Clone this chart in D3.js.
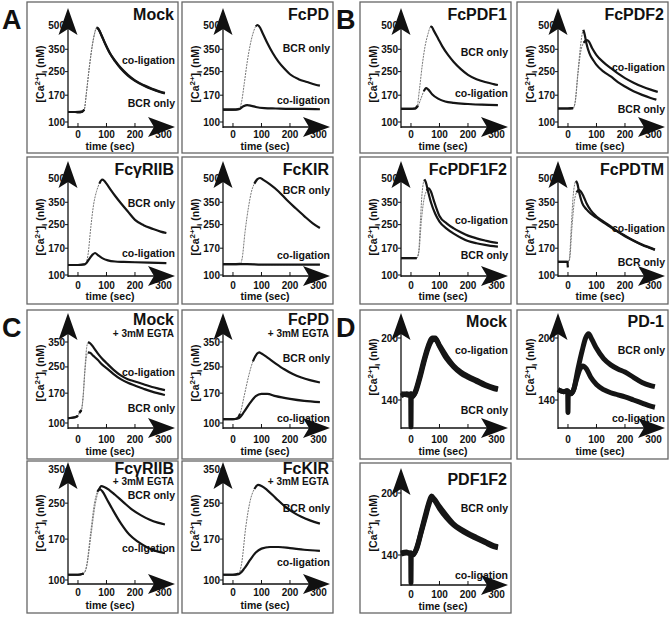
<!DOCTYPE html>
<html><head><meta charset="utf-8">
<script src="https://cdn.jsdelivr.net/npm/d3@7"></script>
<style>
body{margin:0;background:#fff}
svg{display:block}
text{font-family:"Liberation Sans",Arial,Helvetica,sans-serif;font-weight:bold;fill:#111}
</style>
</head><body>
<svg id="c" width="670" height="617"></svg>
<script>
// ---------- tick labels ----------
const timeTicks = [0, 100, 200, 300];
const caTicksAB = [100, 170, 250, 350, 500];
const caTicksC = [100, 170, 250, 350];
const caTicksD = [140, 200];

// ---------- traces: [time (sec), [Ca2+]i (nM)] ----------
const mockA_co = [[-35,124],[-10,124],[0,123],[15,125],[22,130],[30,180],[40,270],[50,370],[58,440],[65,482],[70,478],[80,440],[95,380],[110,335],[130,295],[150,265],[175,238],[200,218],[230,202],[260,190],[290,180],[305,177]];
const mockA_bcr = [[-35,124],[-10,124],[15,125],[22,130],[30,180],[40,268],[50,365],[58,438],[66,478],[72,470],[82,432],[97,375],[112,330],[130,293],[150,262],[175,235],[200,216],[230,200],[260,188],[290,179],[305,175]];

const fcpd_bcr = [[-35,130],[-10,130],[10,130],[22,132],[30,150],[40,210],[50,290],[60,370],[70,440],[80,490],[86,500],[92,490],[105,440],[120,385],[140,330],[160,290],[180,262],[200,240],[230,222],[260,212],[290,203],[305,200]];
const fcpd_co = [[-35,130],[0,130],[20,131],[35,138],[50,142],[65,140],[80,137],[110,134],[150,133],[200,132],[250,132],[305,131]];

const fcpdf1_bcr = [[-35,132],[-5,132],[15,133],[22,140],[30,190],[40,280],[50,370],[60,440],[68,485],[72,488],[80,460],[95,410],[110,365],[130,322],[150,290],[175,260],[200,238],[230,222],[260,212],[290,205],[305,202]];
const fcpdf1_co = [[-35,132],[-5,132],[15,133],[25,140],[35,160],[45,182],[53,192],[60,188],[75,172],[95,160],[120,152],[150,148],[200,145],[250,143],[305,142]];

const fcpdf2_bcr = [[-35,133],[0,133],[18,134],[25,150],[35,250],[45,380],[50,440],[54,465],[58,440],[65,380],[75,330],[90,295],[100,277],[125,250],[150,232],[175,212],[200,197],[230,182],[260,171],[290,162],[310,157]];
const fcpdf2_co = [[-35,133],[0,133],[18,134],[25,148],[35,240],[45,340],[55,385],[65,400],[72,395],[85,355],[100,321],[125,288],[150,264],[175,243],[200,226],[230,210],[260,197],[290,187],[315,180]];

const fcgr_bcr = [[-35,124],[0,124],[25,126],[35,150],[45,240],[55,340],[65,410],[75,460],[85,488],[92,480],[100,460],[115,420],[130,385],[150,346],[175,305],[200,269],[230,248],[260,235],[290,224],[310,219]];
const fcgr_co = [[-35,124],[0,124],[25,126],[40,140],[52,152],[60,156],[70,150],[85,142],[105,136],[130,133],[160,132],[200,131],[250,130],[310,129]];

const fckir_bcr = [[-35,126],[0,126],[25,127],[32,140],[42,220],[55,330],[65,410],[75,460],[85,490],[95,500],[105,488],[130,455],[160,410],[190,360],[220,320],[250,285],[280,255],[305,237]];
const fckir_co = [[-35,126],[0,126],[50,126],[100,125],[150,125],[200,125],[250,125],[305,125]];

const fcpdf1f2_bcr = [[-35,142],[0,142],[20,142],[27,160],[33,260],[38,380],[43,460],[47,490],[52,470],[60,410],[70,350],[85,295],[100,262],[125,235],[150,217],[175,203],[200,192],[230,185],[260,180],[290,176],[305,175]];
const fcpdf1f2_co = [[-35,142],[0,142],[20,142],[28,160],[36,260],[45,360],[55,415],[62,430],[70,410],[80,360],[92,310],[100,285],[125,255],[150,236],[175,222],[200,210],[230,201],[260,194],[290,188],[305,186]];

const fcpdtm_bcr = [[-35,132],[-2,132],[-0.5,118],[1,132],[5,140],[12,250],[18,380],[24,460],[28,480],[33,460],[40,400],[50,345],[65,315],[80,295],[100,278],[125,258],[150,240],[175,223],[200,208],[230,193],[260,180],[290,170],[305,165]];
const fcpdtm_co = [[-35,132],[-2,132],[2,132],[6,140],[14,240],[22,350],[30,405],[38,420],[45,410],[55,380],[65,345],[80,310],[100,283],[125,262],[150,243],[175,225],[200,210],[230,194],[260,181],[290,171],[305,166]];

const egtaMock_co = [[-35,110],[-10,112],[0,115],[5,122],[12,128],[18,160],[24,240],[30,320],[35,348],[42,345],[55,325],[70,300],[85,280],[100,264],[125,240],[150,222],[175,210],[200,203],[230,195],[260,187],[290,181],[305,178]];
const egtaMock_bcr = [[-35,110],[-10,112],[0,115],[5,122],[12,128],[18,160],[24,230],[30,290],[35,305],[42,303],[55,290],[70,275],[85,258],[100,246],[125,226],[150,210],[175,199],[200,191],[230,182],[260,174],[290,168],[305,165]];

const egtaFcpd_bcr = [[-35,108],[0,108],[15,110],[25,120],[40,165],[55,220],[70,270],[85,300],[92,305],[100,300],[120,285],[150,262],[180,242],[210,226],[240,215],[270,207],[305,200]];
const egtaFcpd_co = [[-35,108],[0,108],[20,110],[40,125],[60,145],[80,162],[100,168],[120,168],[150,162],[200,155],[250,150],[305,147]];

const egtaFcgr_bcr = [[-35,108],[0,108],[20,110],[30,120],[45,175],[60,245],[72,283],[82,296],[92,294],[110,285],[130,272],[160,252],[190,234],[220,221],[250,211],[280,204],[305,200]];
const egtaFcgr_co = [[-35,108],[0,108],[20,110],[30,122],[45,185],[58,250],[68,280],[76,288],[86,281],[100,262],[120,236],[150,203],[180,179],[210,165],[240,155],[270,148],[305,144]];

const egtaFckir_bcr = [[-35,108],[0,108],[20,110],[30,125],[45,195],[60,255],[75,288],[88,300],[100,297],[120,285],[150,263],[180,243],[210,228],[240,217],[270,209],[305,202]];
const egtaFckir_co = [[-35,108],[0,108],[20,109],[40,118],[60,132],[80,145],[100,152],[130,155],[160,155],[200,153],[250,150],[305,148]];

const dMock_co = [[-35,146],[-15,145],[-3,144],[-1,146],[0,114],[1,146],[5,143],[15,148],[30,162],[45,178],[60,192],[75,200],[85,200],[100,193],[125,182],[150,173],[175,167],[200,163],[230,159],[260,155],[290,152],[305,151]];
const dMock_bcr = [[-35,144],[-15,146],[-3,145],[5,144],[15,147],[30,160],[45,176],[60,190],[75,198],[85,199],[100,192],[125,180],[150,172],[175,166],[200,162],[230,158],[260,154],[290,151],[305,150]];

const pd1_bcr = [[-35,150],[-15,148],[-3,149],[-1,148],[0,128],[1,148],[10,146],[20,150],[35,170],[50,188],[62,200],[72,204],[85,198],[100,190],[125,180],[150,174],[175,170],[200,167],[230,162],[260,157],[290,154],[305,153]];
const pd1_co = [[-35,150],[-15,148],[-3,149],[10,146],[20,150],[30,160],[42,170],[52,173],[65,170],[80,162],[100,155],[125,150],[150,147],[175,145],[200,143],[230,140],[260,137],[290,134],[305,133]];

const pdf1f2_bcr = [[-35,142],[-15,143],[-3,141],[-1,142],[0,113],[1,142],[8,140],[20,147],[35,162],[50,178],[62,190],[72,197],[82,194],[100,187],[125,178],[150,170],[175,165],[200,161],[230,157],[260,153],[290,149],[305,148]];
const pdf1f2_co = [[-35,141],[-15,142],[-3,142],[8,141],[20,146],[35,161],[50,176],[62,188],[72,195],[82,193],[100,185],[125,176],[150,169],[175,164],[200,160],[230,156],[260,152],[290,148],[305,147]];

// ---------- layout ----------
const colX = [27, 182, 360, 517];
const panelW = 151;

// per-row frame geometry (relative to the panel's top edge)
const frames = {
  AB1:{top:2,   h:151, ticks:caTicksAB, kind:"ind", tip:6, axis:125, lo:[100,120], hi:[500,23], tickLab:136, timeLab:148, titleY:18, ytitleY:72, sw:2.2},
  AB2:{top:157, h:147, ticks:caTicksAB, kind:"ind", tip:4, axis:119, lo:[100,118], hi:[500,21], tickLab:132, timeLab:143, titleY:18, ytitleY:70, sw:2.2},
  C1: {top:310, h:149, ticks:caTicksC,  kind:"ind", tip:3, axis:118, lo:[100,113], hi:[350,32], tickLab:133, timeLab:145, titleY:15, subY:27, ytitleY:63, sw:2.2},
  C2: {top:461, h:152, ticks:caTicksC,  kind:"ind", tip:1, axis:123, lo:[100,119], hi:[350,8],  tickLab:135, timeLab:148, titleY:13, subY:24, ytitleY:62, sw:2.2},
  D1: {top:310, h:149, ticks:caTicksD,  kind:"lin", tip:3, axis:118, lo:[140,90],  hi:[200,28], tickLab:133, timeLab:145, titleY:17, ytitleY:57, sw:5, noisy:true},
  D2: {top:463, h:150, ticks:caTicksD,  kind:"lin", tip:5, axis:122, lo:[140,92],  hi:[200,30], tickLab:135, timeLab:147, titleY:22, ytitleY:60, sw:5, noisy:true}
};

const panels = [
  {letter:"A", col:0,frame:"AB1",title:"Mock", traces:[mockA_bcr,mockA_co], labels:[["co-ligation",62],["BCR only",105]]},
  {col:1,frame:"AB1",title:"FcPD", traces:[fcpd_bcr,fcpd_co], labels:[["BCR only",50],["co-ligation",102]]},
  {letter:"B", col:2,frame:"AB1",title:"FcPDF1", traces:[fcpdf1_bcr,fcpdf1_co], labels:[["BCR only",54],["co-ligation",95]]},
  {col:3,frame:"AB1",title:"FcPDF2", traces:[fcpdf2_bcr,fcpdf2_co], labels:[["co-ligation",69],["BCR only",111]]},
  {col:0,frame:"AB2",title:"FcγRIIB", traces:[fcgr_bcr,fcgr_co], labels:[["BCR only",50],["co-ligation",100]]},
  {col:1,frame:"AB2",title:"FcKIR", traces:[fckir_bcr,fckir_co], labels:[["BCR only",37],["co-ligation",102]]},
  {col:2,frame:"AB2",title:"FcPDF1F2", traces:[fcpdf1f2_bcr,fcpdf1f2_co], labels:[["co-ligation",67],["BCR only",102]]},
  {col:3,frame:"AB2",title:"FcPDTM", traces:[fcpdtm_bcr,fcpdtm_co], labels:[["co-ligation",75],["BCR only",109]]},
  {letter:"C", col:0,frame:"C1",title:"Mock",sub:"+ 3mM EGTA", traces:[egtaMock_bcr,egtaMock_co], labels:[["co-ligation",66],["BCR only",102]]},
  {col:1,frame:"C1",title:"FcPD",sub:"+ 3mM EGTA", traces:[egtaFcpd_bcr,egtaFcpd_co], labels:[["BCR only",52],["co-ligation",112]]},
  {col:0,frame:"C2",title:"FcγRIIB",sub:"+ 3mM EGTA", traces:[egtaFcgr_bcr,egtaFcgr_co], labels:[["BCR only",38],["co-ligation",91]]},
  {col:1,frame:"C2",title:"FcKIR",sub:"+ 3mM EGTA", traces:[egtaFckir_bcr,egtaFckir_co], labels:[["BCR only",51],["co-ligation",105]]},
  {letter:"D", col:2,frame:"D1",title:"Mock", traces:[dMock_bcr,dMock_co], labels:[["co-ligation",44],["BCR only",104]]},
  {col:3,frame:"D1",title:"PD-1", traces:[pd1_bcr,pd1_co], labels:[["BCR only",44],["co-ligation",112]]},
  {col:2,frame:"D2",title:"PDF1F2", traces:[pdf1f2_bcr,pdf1f2_co], labels:[["BCR only",49],["co-ligation",116]]}
];

// indicator calibration: fluorescence fraction f = Ca/(Ca+Kd)
const Kd = 400;
const fT = v => v / (v + Kd);

const svg = d3.select("#c");

function stealthV(x, y){ // upward arrow, tip at (x,y)
  return `M${x},${y} L${x+9.5},${y+27} L${x},${y+21} L${x-9.5},${y+27} Z`;
}
function stealthH(x, y){ // rightward arrow, tip at (x,y)
  return `M${x},${y} L${x-27},${y+10} L${x-21},${y} L${x-27},${y-10} Z`;
}

panels.forEach(p => {
  const g = frames[p.frame];
  const L = colX[p.col], T = g.top, H = g.h;
  const gp = svg.append("g");
  gp.append("rect").attr("x", L).attr("y", T).attr("width", panelW).attr("height", H)
    .attr("fill", "none").attr("stroke", "#666").attr("stroke-width", 1.3);

  const x = d3.scaleLinear().domain([-35, 300]).range([L + 41, L + 41 + 335 * 0.285]);
  let y;
  if (g.kind === "lin") {
    y = d3.scaleLinear().domain([g.lo[0], g.hi[0]]).range([T + g.lo[1], T + g.hi[1]]);
  } else {
    const s = d3.scaleLinear().domain([fT(g.lo[0]), fT(g.hi[0])]).range([T + g.lo[1], T + g.hi[1]]);
    y = v => s(fT(v));
  }
  const ax = L + 41, ay = T + g.axis;

  // y ticks + labels (drawn first so the arrowheads sit on top)
  g.ticks.forEach(v => {
    gp.append("line").attr("x1", ax - 3).attr("x2", ax).attr("y1", y(v)).attr("y2", y(v))
      .attr("stroke", "#111").attr("stroke-width", 1);
    gp.append("text").attr("x", ax - 3).attr("y", y(v) + 3.5).attr("text-anchor", "end")
      .attr("font-size", 10).text(v);
  });
  // x ticks
  timeTicks.forEach(t => {
    gp.append("line").attr("x1", x(t)).attr("x2", x(t)).attr("y1", ay - 4).attr("y2", ay)
      .attr("stroke", "#111").attr("stroke-width", 1);
    gp.append("text").attr("x", x(t)).attr("y", T + g.tickLab).attr("text-anchor", "middle")
      .attr("font-size", 10).text(t);
  });

  // axes
  gp.append("line").attr("x1", ax).attr("x2", ax).attr("y1", ay + 1).attr("y2", T + g.tip + 10)
    .attr("stroke", "#111").attr("stroke-width", 1.3);
  gp.append("line").attr("x1", ax).attr("x2", L + 135).attr("y1", ay).attr("y2", ay)
    .attr("stroke", "#111").attr("stroke-width", 1.3);
  gp.append("path").attr("d", stealthV(ax, T + g.tip)).attr("fill", "#111");
  gp.append("path").attr("d", stealthH(L + 148, ay)).attr("fill", "#111");

  gp.append("text").attr("x", L + 83).attr("y", T + g.timeLab).attr("text-anchor", "middle")
    .attr("font-size", 10.5).text("time (sec)");

  // y title
  const yt = gp.append("text").attr("text-anchor", "middle").attr("font-size", 10.5)
    .attr("transform", `translate(${L + 17},${T + g.ytitleY}) rotate(-90)`);
  yt.append("tspan").text("[Ca");
  yt.append("tspan").attr("dy", -4).attr("font-size", 8).text("2+");
  yt.append("tspan").attr("dy", 4).text("]");
  yt.append("tspan").attr("dy", 3).attr("font-size", 8).text("i");
  yt.append("tspan").attr("dy", -3).text(" (nM)");

  // titles
  gp.append("text").attr("x", L + panelW - 4).attr("y", T + g.titleY).attr("text-anchor", "end")
    .attr("font-size", 16).text(p.title);
  if (p.sub) gp.append("text").attr("x", L + panelW - 4).attr("y", T + g.subY).attr("text-anchor", "end")
    .attr("font-size", 10).text(p.sub);

  // traces: thin faint line for the whole record, heavy line except on steep rising parts
  const line = d3.line().x(d => x(d[0])).y(d => y(d[1])).curve(d3.curveMonotoneX);
  p.traces.forEach(tr => {
    if (g.noisy) {
      gp.append("path").attr("d", line(tr)).attr("fill", "none")
        .attr("stroke", "#151515").attr("stroke-width", g.sw).attr("stroke-linejoin", "round");
      return;
    }
    gp.append("path").attr("d", line(tr)).attr("fill", "none")
      .attr("stroke", "#777").attr("stroke-width", 1).attr("stroke-dasharray", "2,1");
    const runs = [];
    let cur = [tr[0]];
    for (let i = 1; i < tr.length; i++) {
      const dxp = x(tr[i][0]) - x(tr[i-1][0]);
      const rise = y(tr[i-1][1]) - y(tr[i][1]);
      if (rise / dxp > 2.2) { if (cur.length > 1) runs.push(cur); cur = [tr[i]]; }
      else cur.push(tr[i]);
    }
    if (cur.length > 1) runs.push(cur);
    runs.forEach(r => {
      gp.append("path").attr("d", line(r)).attr("fill", "none")
        .attr("stroke", "#151515").attr("stroke-width", g.sw).attr("stroke-linejoin", "round");
    });
  });

  // trace labels
  p.labels.forEach(([txt, dy]) => {
    gp.append("text").attr("x", L + 148).attr("y", T + dy).attr("text-anchor", "end")
      .attr("font-size", 10.5).text(txt);
  });

  if (p.letter) {
    svg.append("text").attr("x", p.col === 0 ? 2 : 336).attr("y", T + 27)
      .attr("font-size", 27).text(p.letter);
  }
});
</script>
</body></html>
